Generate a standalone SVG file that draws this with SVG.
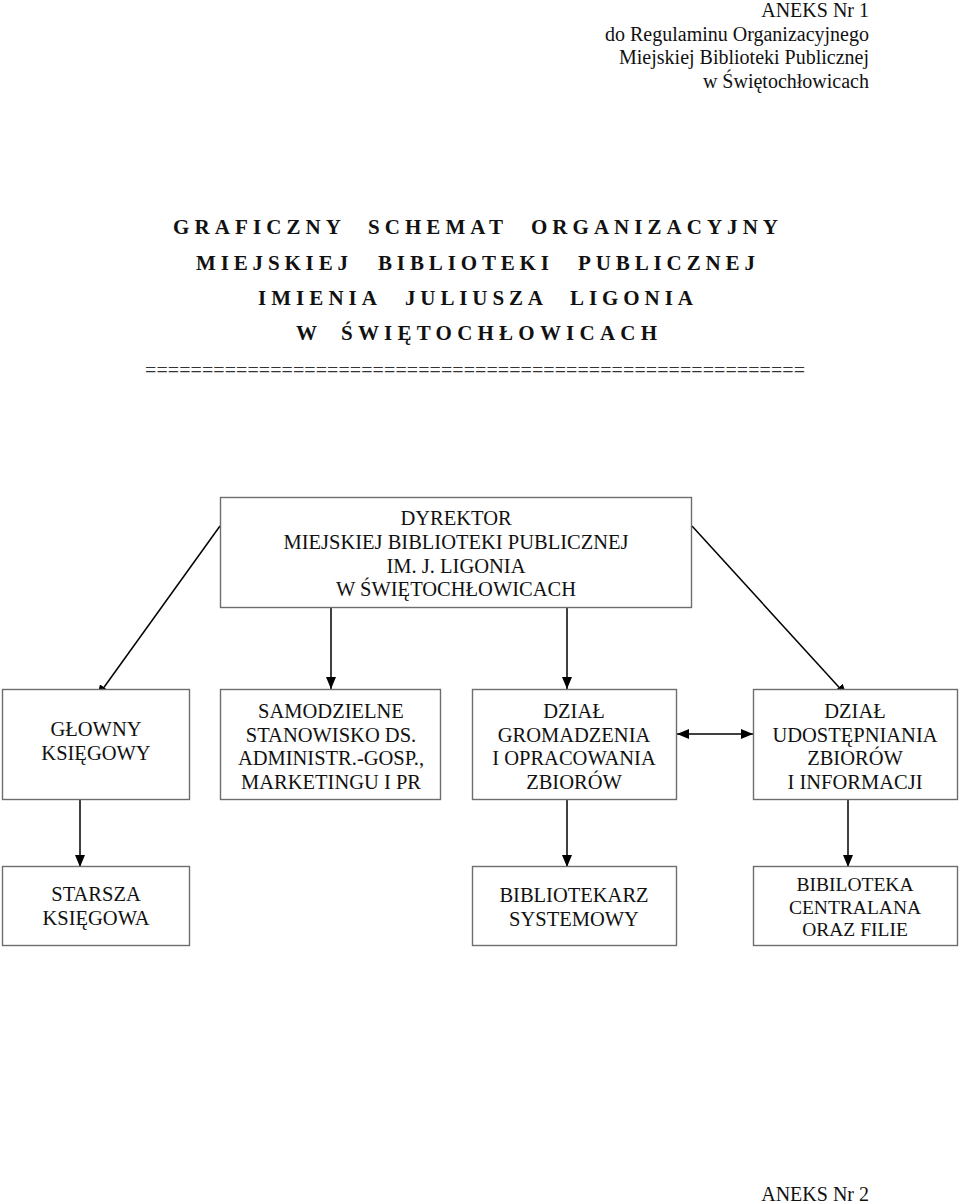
<svg xmlns="http://www.w3.org/2000/svg" width="960" height="1204" viewBox="0 0 960 1204">
<style>
.t{font-family:"Liberation Serif","Times New Roman",serif;font-size:20.5px;fill:#111;text-anchor:middle}
.h{font-family:"Liberation Serif","Times New Roman",serif;font-size:20px;fill:#111;text-anchor:end}
.b{font-family:"Liberation Serif","Times New Roman",serif;font-size:21px;font-weight:bold;fill:#111}
.box{fill:#fff;stroke:#6e6e6e;stroke-width:1.4}
.c{stroke:#000;stroke-width:1.5;fill:none}
</style>
<defs>
<marker id="ah" markerUnits="userSpaceOnUse" markerWidth="12" markerHeight="10" refX="12" refY="5" orient="auto-start-reverse">
<path d="M0,0 L12,5 L0,10 Z" fill="#000"/>
</marker>
</defs>
<rect width="960" height="1204" fill="#fff"/>
<g id="header">
<text class="h" x="869" y="17">ANEKS Nr 1</text>
<text class="h" x="869" y="41">do Regulaminu Organizacyjnego</text>
<text class="h" x="869" y="64">Miejskiej Biblioteki Publicznej</text>
<text class="h" x="869" y="88">w Świętochłowicach</text>
</g>
<g id="title">
<text class="b" x="173" y="234" textLength="168" lengthAdjust="spacing">GRAFICZNY</text>
<text class="b" x="368" y="234" textLength="135" lengthAdjust="spacing">SCHEMAT</text>
<text class="b" x="531" y="234" textLength="247" lengthAdjust="spacing">ORGANIZACYJNY</text>
<text class="b" x="196" y="270" textLength="152" lengthAdjust="spacing">MIEJSKIEJ</text>
<text class="b" x="378" y="270" textLength="171" lengthAdjust="spacing">BIBLIOTEKI</text>
<text class="b" x="578" y="270" textLength="177" lengthAdjust="spacing">PUBLICZNEJ</text>
<text class="b" x="258" y="305" textLength="119" lengthAdjust="spacing">IMIENIA</text>
<text class="b" x="405" y="305" textLength="138" lengthAdjust="spacing">JULIUSZA</text>
<text class="b" x="570" y="305" textLength="123" lengthAdjust="spacing">LIGONIA</text>
<text class="b" x="296" y="340">W</text>
<text class="b" x="341" y="340" textLength="316" lengthAdjust="spacing">ŚWIĘTOCHŁOWICACH</text>
<text x="145" y="377" font-family="Liberation Serif,serif" font-size="20" fill="#333" textLength="660" lengthAdjust="spacing">==========================================================</text>
</g>
<g id="connectors">
<line class="c" x1="220" y1="526" x2="97" y2="697" marker-end="url(#ah)"/>
<line class="c" x1="692" y1="526" x2="847" y2="696" marker-end="url(#ah)"/>
<line class="c" x1="331" y1="608" x2="331" y2="689" marker-end="url(#ah)"/>
<line class="c" x1="567" y1="608" x2="567" y2="689" marker-end="url(#ah)"/>
<line class="c" x1="80" y1="799" x2="80" y2="867" marker-end="url(#ah)"/>
<line class="c" x1="567" y1="799" x2="567" y2="867" marker-end="url(#ah)"/>
<line class="c" x1="848" y1="799" x2="848" y2="867" marker-end="url(#ah)"/>
<line class="c" x1="677" y1="734" x2="753" y2="734" marker-start="url(#ah)" marker-end="url(#ah)"/>
</g>
<g id="dyrektor">
<rect class="box" x="220.5" y="497.5" width="471" height="110"/>
<text class="t" x="456" y="525">DYREKTOR</text>
<text class="t" x="456" y="549">MIEJSKIEJ BIBLIOTEKI PUBLICZNEJ</text>
<text class="t" x="456" y="573">IM. J. LIGONIA</text>
<text class="t" x="456" y="596">W ŚWIĘTOCHŁOWICACH</text>
</g>
<g id="glowny">
<rect class="box" x="2.5" y="689.5" width="187" height="110"/>
<text class="t" x="96" y="736">GŁOWNY</text>
<text class="t" x="96" y="760">KSIĘGOWY</text>
</g>
<g id="samodzielne">
<rect class="box" x="220.5" y="689.5" width="220" height="110"/>
<text class="t" x="331" y="718">SAMODZIELNE</text>
<text class="t" x="331" y="742">STANOWISKO DS.</text>
<text class="t" x="331" y="765">ADMINISTR.-GOSP.,</text>
<text class="t" x="331" y="789">MARKETINGU I PR</text>
</g>
<g id="gromadzenia">
<rect class="box" x="472.5" y="689.5" width="204" height="110"/>
<text class="t" x="574" y="718">DZIAŁ</text>
<text class="t" x="574" y="742">GROMADZENIA</text>
<text class="t" x="574" y="765">I OPRACOWANIA</text>
<text class="t" x="574" y="789">ZBIORÓW</text>
</g>
<g id="udostepniania">
<rect class="box" x="753.5" y="689.5" width="204" height="110"/>
<text class="t" x="855" y="718">DZIAŁ</text>
<text class="t" x="855" y="742">UDOSTĘPNIANIA</text>
<text class="t" x="855" y="765">ZBIORÓW</text>
<text class="t" x="855" y="789">I INFORMACJI</text>
</g>
<g id="starsza">
<rect class="box" x="2.5" y="866.5" width="187" height="79"/>
<text class="t" x="96" y="901">STARSZA</text>
<text class="t" x="96" y="925">KSIĘGOWA</text>
</g>
<g id="bibliotekarz">
<rect class="box" x="472.5" y="866.5" width="204" height="79"/>
<text class="t" x="574" y="902">BIBLIOTEKARZ</text>
<text class="t" x="574" y="926">SYSTEMOWY</text>
</g>
<g id="filie">
<rect class="box" x="753.5" y="866.5" width="204" height="79"/>
<text class="t" x="855" y="891" style="font-size:19.5px">BIBILOTEKA</text>
<text class="t" x="855" y="914" style="font-size:19.5px">CENTRALANA</text>
<text class="t" x="855" y="936" style="font-size:19.5px">ORAZ FILIE</text>
</g>
<g id="footer">
<text class="h" x="869" y="1201">ANEKS Nr 2</text>
</g>
</svg>
